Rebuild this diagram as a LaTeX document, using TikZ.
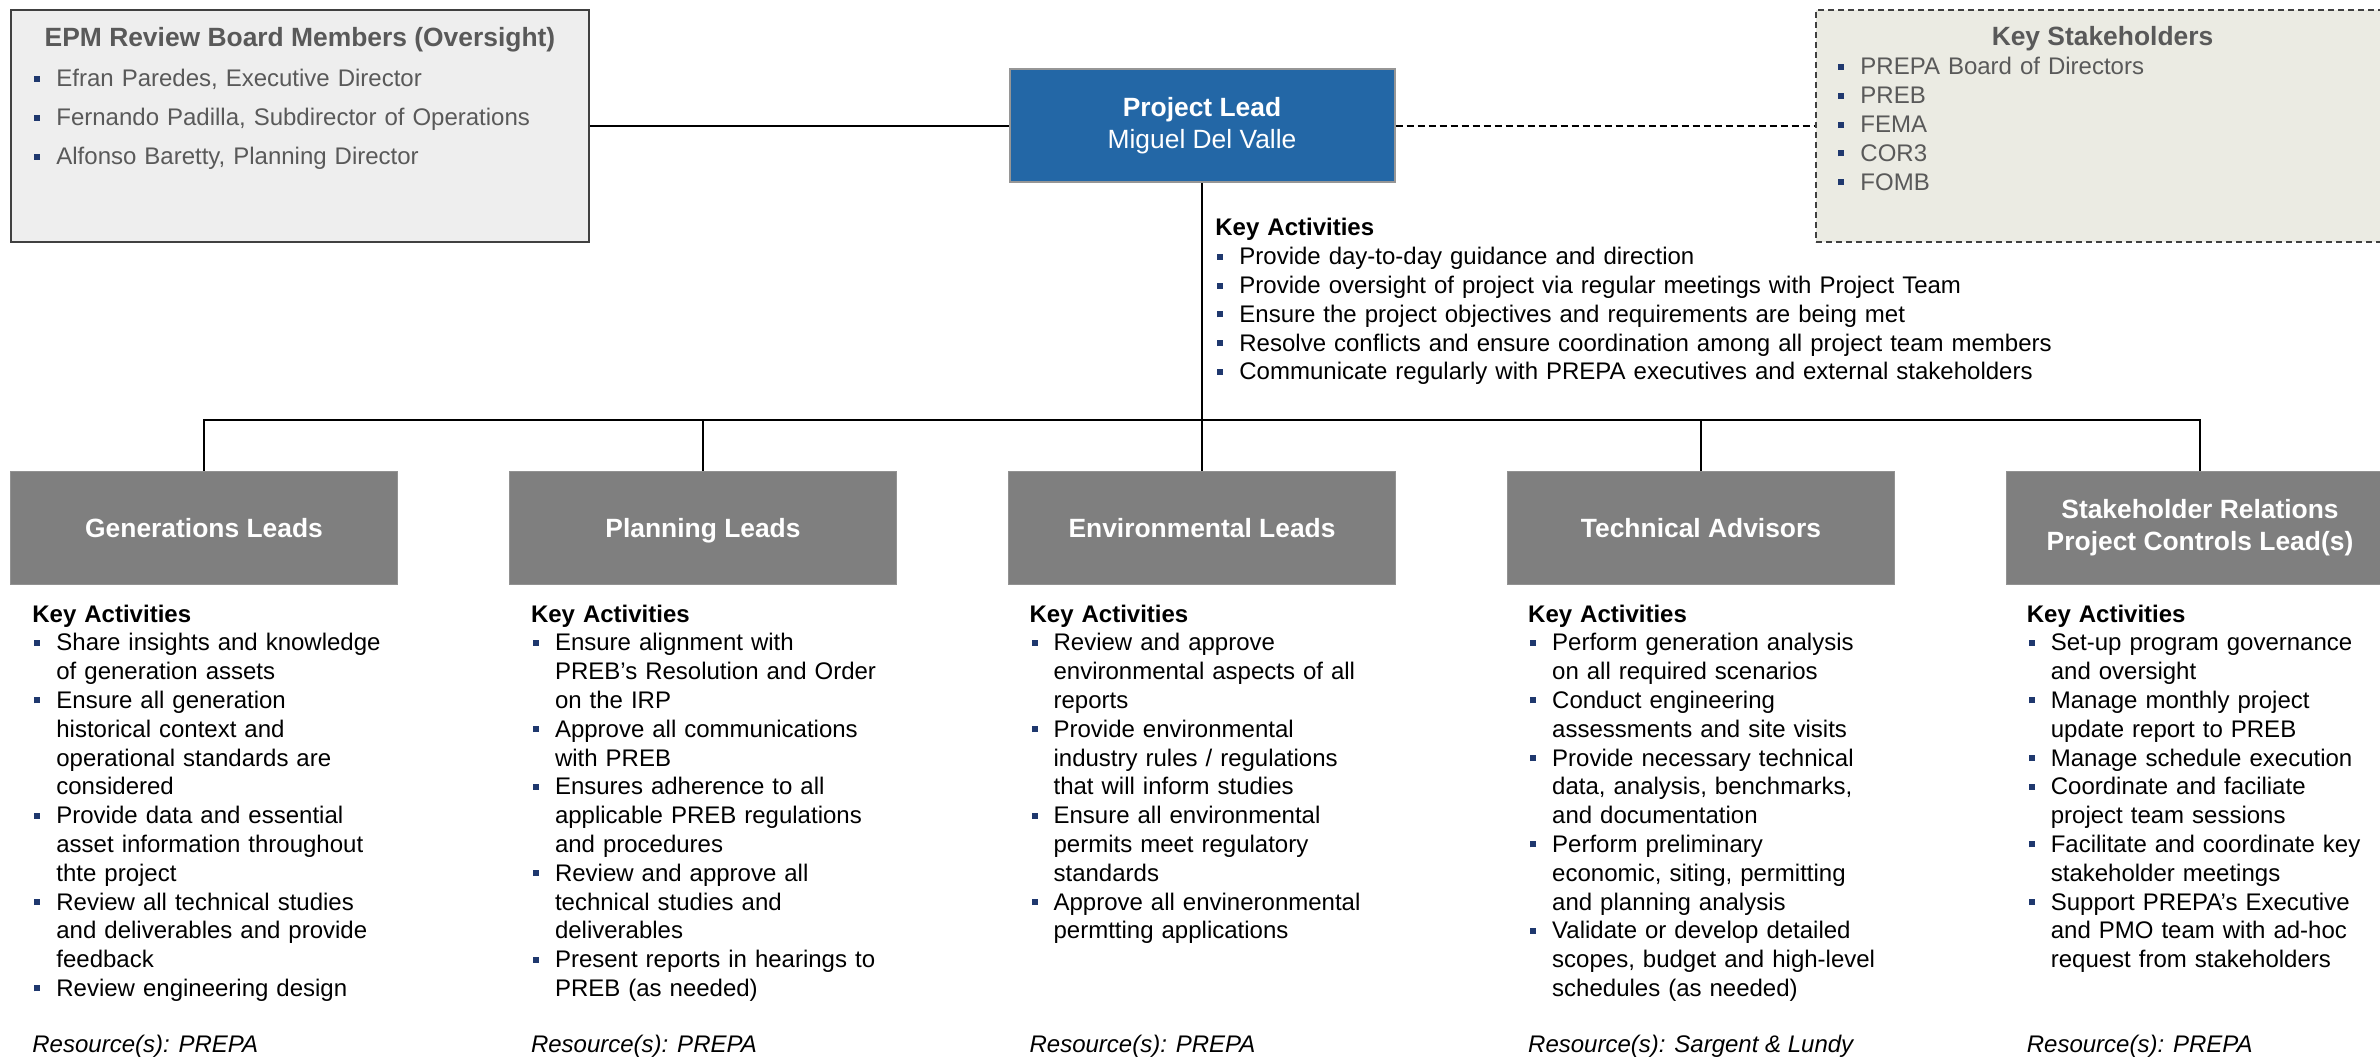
\documentclass[tikz,border=0pt]{standalone}
\usepackage{fontspec}
\setmainfont{Liberation Sans}
\usetikzlibrary{positioning}

\definecolor{plblue}{RGB}{35,103,166}
\definecolor{plline}{RGB}{150,150,150}
\definecolor{boxgray}{RGB}{127,127,127}
\definecolor{epmfill}{RGB}{238,238,238}
\definecolor{ksfill}{RGB}{235,235,227}
\definecolor{greytext}{RGB}{89,89,89}
\definecolor{bulblue}{RGB}{31,56,110}

\newcommand{\sqbul}{\textcolor{bulblue}{\rule[2.5pt]{3pt}{3pt}}}
\newcommand{\fitem}{\noindent\hangindent=12pt\hangafter=1\makebox[12pt][l]{\hspace{1pt}\sqbul}}
\newcommand{\bitem}{\par\fitem}

\begin{document}
\begin{tikzpicture}[
						x=0.5pt, y=-0.5pt,
						node distance={249.5pt},
						conn/.style = {draw, line width=1pt},
						epmbox/.style = {draw=black!75, fill=epmfill, line width=0.8pt, minimum width=289pt, minimum height=116pt},
						ksbox/.style = {draw=black!75, fill=ksfill, line width=0.8pt, dash pattern=on 3pt off 2pt, minimum width=286.5pt, minimum height=116pt},
						plbox/.style = {draw=plline, fill=plblue, line width=1pt, text=white, align=center, minimum width=192.5pt, minimum height=56.5pt, font=\fontsize{13.2pt}{16pt}\selectfont},
						leadbox/.style = {draw=boxgray!85, fill=boxgray, text=white, align=center, minimum width=193.5pt, minimum height=56.5pt, inner sep=0pt, font=\fontsize{13.2pt}{16pt}\selectfont\bfseries},
						onelead/.style = {leadbox, text height=9.5pt, text depth=0pt},
						toptitle/.style = {inner sep=0pt, text=greytext, font=\fontsize{13.2pt}{16pt}\selectfont\bfseries},
						toplist/.style = {inner sep=0pt, text=greytext, align=left, text width=280pt, font=\fontsize{12pt}{14.4pt}\selectfont},
						acttext/.style = {inner sep=0pt, align=left, text width=200pt, font=\fontsize{12pt}{14.4pt}\selectfont},
						restext/.style = {inner sep=0pt, font=\fontsize{12pt}{14.4pt}\selectfont\itshape},
					]
\useasboundingbox (0,0) rectangle (2380,1058);
\clip (0,0) rectangle (2380,1058);

% oversight board
\node[epmbox] (epm) at (300,126) {};
\node[toptitle, anchor=base] (epmhead) at (300,47) {EPM Review Board Members (Oversight)};
\node[toplist, font=\fontsize{12pt}{19.5pt}\selectfont, anchor=base west] (epmlist) at (32,87)
	{\fitem Efran Paredes, Executive Director\bitem Fernando Padilla, Subdirector of Operations\bitem Alfonso Baretty, Planning Director\par};

% project lead
\node[plbox] (pl) at (1202,126) {\textbf{Project Lead}\\Miguel Del Valle};

% stakeholders
\node[ksbox] (ks) at (2102.5,126) {};
\node[toptitle, anchor=base] (kshead) at (2102.5,46) {Key Stakeholders};
\node[toplist, text width=250pt, anchor=base west] (kslist) at (1836,75)
	{\fitem PREPA Board of Directors\bitem PREB\bitem FEMA\bitem COR3\bitem FOMB\par};

\draw[conn] (epm) -- (pl);
\draw[conn, dash pattern=on 3.5pt off 2pt] (pl) -- (ks);

\node[acttext, text width=420pt, anchor=base west] (plact) at (1215,236)
	{\textbf{Key Activities}
	\bitem Provide day-to-day guidance and direction
	\bitem Provide oversight of project via regular meetings with Project Team
	\bitem Ensure the project objectives and requirements are being met
	\bitem Resolve conflicts and ensure coordination among all project team members
	\bitem Communicate regularly with PREPA executives and external stakeholders\par};

% leads
\node[onelead] (gen) at (204,527.5) {Generations Leads};
\node[onelead] (plan) [right of=gen] {Planning Leads};
\node[onelead] (env) [right of=plan] {Environmental Leads};
\node[onelead] (tech) [right of=env] {Technical Advisors};
\node[leadbox] (stake) [right of=tech] {Stakeholder Relations\\Project Controls Lead(s)};

\coordinate (bus) at (0,420);
\draw[conn] (pl) -- (env);
\draw[conn] (gen.north) -- (gen.north |- bus) -- (stake.north |- bus) -- (stake.north);
\draw[conn] (plan.north) -- (plan.north |- bus);
\draw[conn] (tech.north) -- (tech.north |- bus);

% activities
\node[acttext, anchor=base west] (genact) at (32,622)
	{\textbf{Key Activities}
	\bitem Share insights and knowledge\newline of generation assets
	\bitem Ensure all generation\newline historical context and\newline operational standards are\newline considered
	\bitem Provide data and essential\newline asset information throughout\newline thte project
	\bitem Review all technical studies\newline and deliverables and provide\newline feedback
	\bitem Review engineering design\par};
\node[acttext, anchor=base west] (planact) at (530.6,622)
	{\textbf{Key Activities}
	\bitem Ensure alignment with\newline PREB’s Resolution and Order\newline on the IRP
	\bitem Approve all communications\newline with PREB
	\bitem Ensures adherence to all\newline applicable PREB regulations\newline and procedures
	\bitem Review and approve all\newline technical studies and\newline deliverables
	\bitem Present reports in hearings to\newline PREB (as needed)\par};
\node[acttext, anchor=base west] (envact) at (1029.2,622)
	{\textbf{Key Activities}
	\bitem Review and approve\newline environmental aspects of all\newline reports
	\bitem Provide environmental\newline industry rules / regulations\newline that will inform studies
	\bitem Ensure all environmental\newline permits meet regulatory\newline standards
	\bitem Approve all envineronmental\newline permtting applications\par};
\node[acttext, anchor=base west] (techact) at (1527.8,622)
	{\textbf{Key Activities}
	\bitem Perform generation analysis\newline on all required scenarios
	\bitem Conduct engineering\newline assessments and site visits
	\bitem Provide necessary technical\newline data, analysis, benchmarks,\newline and documentation
	\bitem Perform preliminary\newline economic, siting, permitting\newline and planning analysis
	\bitem Validate or develop detailed\newline scopes, budget and high-level\newline schedules (as needed)\par};
\node[acttext, anchor=base west] (stakeact) at (2026.4,622)
	{\textbf{Key Activities}
	\bitem Set-up program governance\newline and oversight
	\bitem Manage monthly project\newline update report to PREB
	\bitem Manage schedule execution
	\bitem Coordinate and faciliate\newline project team sessions
	\bitem Facilitate and coordinate key\newline stakeholder meetings
	\bitem Support PREPA’s Executive\newline and PMO team with ad-hoc\newline request from stakeholders\par};

% resources
\node[restext, anchor=base west] (genres) at (32,1052) {Resource(s): PREPA};
\node[restext, anchor=base west] (planres) at (530.6,1052) {Resource(s): PREPA};
\node[restext, anchor=base west] (envres) at (1029.2,1052) {Resource(s): PREPA};
\node[restext, anchor=base west] (techres) at (1527.8,1052) {Resource(s): Sargent \& Lundy};
\node[restext, anchor=base west] (stakeres) at (2026.4,1052) {Resource(s): PREPA};

\end{tikzpicture}
\end{document}
